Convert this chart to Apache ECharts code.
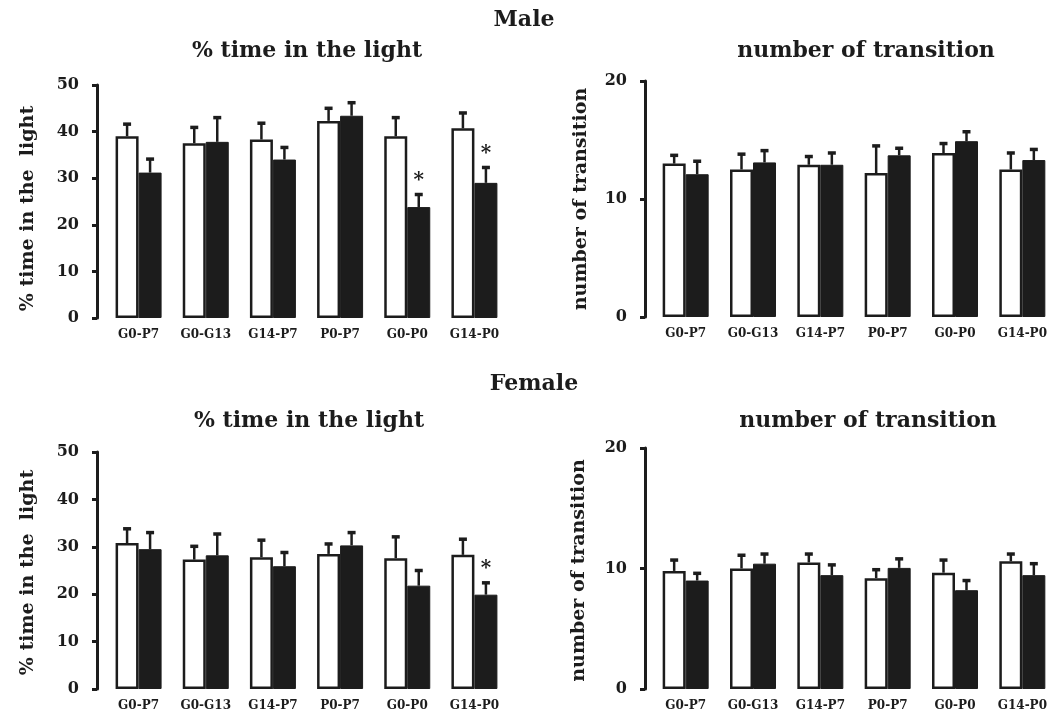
<!DOCTYPE html>
<html style="height: 100%" lang="en">
<head>
    <meta charset="UTF-8">
    <title>Male / Female</title>
</head>
<body style="height: 100%; margin: 0; background: #fff">
<div id="main" style="width: 1062px; height: 716px"></div>

<script src="https://cdn.jsdelivr.net/npm/echarts@6/dist/echarts.min.js"></script>
<script type="text/javascript">

    // groups on the x axis
    var groups = ['G0-P7', 'G0-G13', 'G14-P7', 'P0-P7', 'G0-P0', 'G14-P0'];

    // male, % time in the light (white = control, black = treated)
    var maleLightWhite = [39.0, 37.5, 38.3, 42.3, 39.0, 40.7];
    var maleLightWhiteErr = [2.6, 3.4, 3.5, 2.7, 4.0, 3.3];
    var maleLightBlack = [31.2, 37.8, 34.0, 43.4, 23.8, 29.0];
    var maleLightBlackErr = [2.9, 5.2, 2.6, 2.8, 2.7, 3.3];
    var maleLightSig = [0, 0, 0, 0, 1, 1];

    // male, number of transition
    var maleTransWhite = [13.0, 12.5, 12.9, 12.2, 13.9, 12.5];
    var maleTransWhiteErr = [0.7, 1.3, 0.7, 2.3, 0.8, 1.4];
    var maleTransBlack = [12.1, 13.1, 12.9, 13.7, 14.9, 13.3];
    var maleTransBlackErr = [1.1, 1.0, 1.0, 0.6, 0.8, 0.9];

    // female, % time in the light
    var femaleLightWhite = [30.8, 27.3, 27.8, 28.5, 27.6, 28.3];
    var femaleLightWhiteErr = [3.0, 2.8, 3.6, 2.1, 4.5, 3.3];
    var femaleLightBlack = [29.5, 28.2, 25.9, 30.3, 21.8, 19.9];
    var femaleLightBlackErr = [3.5, 4.5, 2.9, 2.7, 3.2, 2.5];
    var femaleLightSig = [0, 0, 0, 0, 0, 1];

    // female, number of transition
    var femaleTransWhite = [9.8, 10.0, 10.5, 9.2, 9.65, 10.6];
    var femaleTransWhiteErr = [0.9, 1.1, 0.7, 0.7, 1.05, 0.6];
    var femaleTransBlack = [9.0, 10.4, 9.45, 10.05, 8.2, 9.45];
    var femaleTransBlackErr = [0.6, 0.8, 0.85, 0.75, 0.8, 0.95];

    var INK = '#1c1c1c';
    var FONT = '"DejaVu Serif", "Liberation Serif", serif';
    var BAR_W = 23;

    var myChart = echarts.init(document.getElementById('main'));

    function triples(means, errs) {
        return means.map(function (m, i) { return [i, m, errs[i]]; });
    }

    // error bar drawn at centre of the white (-1) or black (+1) bar
    function errRender(side) {
        return function (params, api) {
            var c = api.value(0), m = api.value(1), e = api.value(2);
            var p0 = api.coord([c, m]);
            var p1 = api.coord([c, m + e]);
            var x = p0[0] + side * BAR_W / 2;
            return {
                type: 'group',
                children: [
                    {type: 'line', shape: {x1: x, y1: p0[1], x2: x, y2: p1[1]},
                        style: {stroke: INK, lineWidth: 2.5}},
                    {type: 'line', shape: {x1: x - 4, y1: p1[1], x2: x + 4, y2: p1[1]},
                        style: {stroke: INK, lineWidth: 3.5}}
                ]
            };
        };
    }

    function starRender(params, api) {
        if (!api.value(3)) return null;
        var c = api.value(0), m = api.value(1), e = api.value(2);
        var p = api.coord([c, m + e]);
        return {
            type: 'text',
            style: {
                x: p[0] + BAR_W / 2, y: p[1] - 14,
                text: '*', fill: INK,
                font: 'bold 20px ' + FONT,
                align: 'center', verticalAlign: 'middle'
            }
        };
    }

    var grids = [
        {left: 105, top: 85, width: 403, height: 233},
        {left: 652, top: 81, width: 404, height: 236},
        {left: 105, top: 452, width: 403, height: 237},
        {left: 652, top: 448, width: 404, height: 241}
    ];

    var panels = [
        {w: maleLightWhite, we: maleLightWhiteErr, b: maleLightBlack, be: maleLightBlackErr, sig: maleLightSig,
            max: 50, name: '% time in the  light', offset: 8, shift: 14, gap: 59},
        {w: maleTransWhite, we: maleTransWhiteErr, b: maleTransBlack, be: maleTransBlackErr, sig: null,
            max: 20, name: 'number of transition', offset: 7, shift: 0, gap: 54},
        {w: femaleLightWhite, we: femaleLightWhiteErr, b: femaleLightBlack, be: femaleLightBlackErr, sig: femaleLightSig,
            max: 50, name: '% time in the  light', offset: 8, shift: 4, gap: 59},
        {w: femaleTransWhite, we: femaleTransWhiteErr, b: femaleTransBlack, be: femaleTransBlackErr, sig: null,
            max: 20, name: 'number of transition', offset: 7, shift: 4, gap: 56}
    ];

    var xAxes = [], yAxes = [], series = [];

    panels.forEach(function (p, k) {
        xAxes.push({
            type: 'category', gridIndex: k, data: groups,
            axisLine: {show: false}, axisTick: {show: false},
            axisLabel: {color: INK, fontFamily: FONT, fontWeight: 'bold', fontSize: 12, margin: 11}
        });
        yAxes.push({
            type: 'value', gridIndex: k, min: 0, max: p.max, interval: 10,
            offset: p.offset,
            name: p.name, nameLocation: 'middle', nameGap: p.gap,
            nameTextStyle: {color: INK, fontFamily: FONT, fontWeight: 'bold', fontSize: 19,
                padding: [0, p.shift, 0, 0]},
            splitLine: {show: false},
            axisLine: {show: true, lineStyle: {color: INK, width: 3}},
            axisTick: {show: true, length: 5, lineStyle: {color: INK, width: 3}},
            axisLabel: {color: INK, fontFamily: FONT, fontWeight: 'bold', fontSize: 16, margin: 18}
        });
        series.push({
            type: 'bar', xAxisIndex: k, yAxisIndex: k, data: p.w,
            barWidth: BAR_W, barGap: '0%',
            itemStyle: {color: '#fff', borderColor: INK, borderWidth: 2.5}
        });
        series.push({
            type: 'bar', xAxisIndex: k, yAxisIndex: k, data: p.b,
            barWidth: BAR_W, barGap: '0%',
            itemStyle: {color: INK, borderColor: INK, borderWidth: 1}
        });
        series.push({
            type: 'custom', xAxisIndex: k, yAxisIndex: k, z: 3,
            renderItem: errRender(-1), encode: {x: 0, y: 1},
            data: triples(p.w, p.we)
        });
        series.push({
            type: 'custom', xAxisIndex: k, yAxisIndex: k, z: 3,
            renderItem: errRender(1), encode: {x: 0, y: 1},
            data: triples(p.b, p.be)
        });
        if (p.sig) {
            series.push({
                type: 'custom', xAxisIndex: k, yAxisIndex: k, z: 4,
                renderItem: starRender, encode: {x: 0, y: 1},
                data: p.b.map(function (m, i) { return [i, m, p.be[i], p.sig[i]]; })
            });
        }
    });

    var titleStyle = {color: INK, fontFamily: FONT, fontWeight: 'bold', fontSize: 22};
    var subStyle = {color: INK, fontFamily: FONT, fontWeight: 'bold', fontSize: 22};

    var option = {
        backgroundColor: '#fff',
        animation: false,
        title: [
            {text: 'Male', left: 519, top: 4, textAlign: 'center', textStyle: titleStyle},
            {text: '% time in the light', left: 302, top: 35, textAlign: 'center', textStyle: subStyle},
            {text: 'number of transition', left: 861, top: 35, textAlign: 'center', textStyle: subStyle},
            {text: 'Female', left: 529, top: 368, textAlign: 'center', textStyle: titleStyle},
            {text: '% time in the light', left: 304, top: 405, textAlign: 'center', textStyle: subStyle},
            {text: 'number of transition', left: 863, top: 405, textAlign: 'center', textStyle: subStyle}
        ],
        grid: grids,
        xAxis: xAxes,
        yAxis: yAxes,
        series: series
    };

    myChart.setOption(option);

</script>
</body>
</html>
